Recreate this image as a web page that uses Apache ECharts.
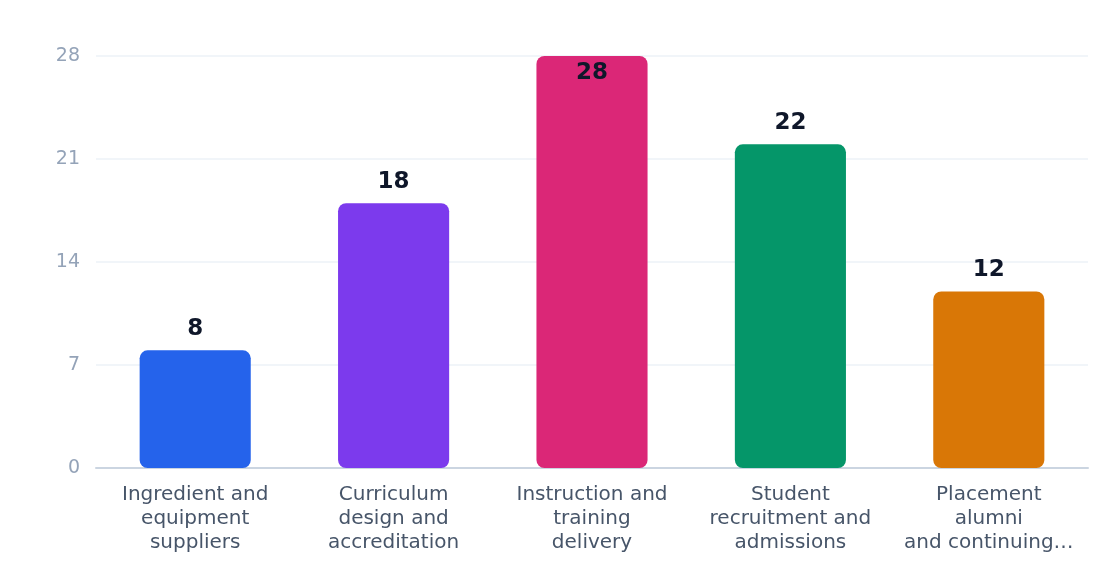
<!DOCTYPE html>
<html>
<head>
<meta charset="utf-8">
<script src="https://cdn.jsdelivr.net/npm/echarts@6/dist/echarts.min.js"></script>
<style>
  html, body { margin: 0; padding: 0; background: #ffffff; }
  #chart { width: 1120px; height: 584px; }
</style>
</head>
<body>
<div id="chart"></div>
<script>
// categories and values
var categories = [
    'Ingredient and\nequipment\nsuppliers',
    'Curriculum\ndesign and\naccreditation',
    'Instruction and\ntraining\ndelivery',
    'Student\nrecruitment and\nadmissions',
    'Placement\nalumni\nand continuing…'
];
var values = [8, 18, 28, 22, 12];
var colors = ['#2563eb', '#7c3aed', '#db2777', '#059669', '#d97706'];
var yTicks = {min: 0, max: 28, interval: 7};

var font = 'DejaVu Sans';
var chart = echarts.init(document.getElementById('chart'));

var option = {
    animation: false,
    textStyle: {fontFamily: font},
    grid: {left: 96, right: 32, top: 56, bottom: 116},
    xAxis: {
        type: 'category',
        data: categories,
        axisTick: {show: false},
        axisLine: {lineStyle: {color: '#cbd5e1', width: 2}},
        axisLabel: {color: '#475569', fontFamily: font, fontSize: 20, lineHeight: 24, margin: 15, interval: 0}
    },
    yAxis: {
        type: 'value',
        min: yTicks.min,
        max: yTicks.max,
        interval: yTicks.interval,
        axisLine: {show: false},
        axisTick: {show: false},
        splitLine: {lineStyle: {color: '#f1f5f9', width: 2}},
        axisLabel: {color: '#94a3b8', fontFamily: font, fontSize: 19, margin: 16, padding: [3, 0, 0, 0]}
    },
    series: [{
        type: 'bar',
        barWidth: '56%',
        data: values.map(function (v, i) {
            var item = {value: v, itemStyle: {color: colors[i], borderRadius: 8}};
            // the top bar keeps its label inside
            if (v >= yTicks.max) {
                item.label = {position: 'insideTop', distance: 6};
            }
            return item;
        }),
        label: {
            show: true,
            position: 'top',
            distance: 10,
            color: '#0f172a',
            fontFamily: font,
            fontSize: 23,
            fontWeight: 'bold'
        }
    }]
};

chart.setOption(option);
</script>
</body>
</html>
